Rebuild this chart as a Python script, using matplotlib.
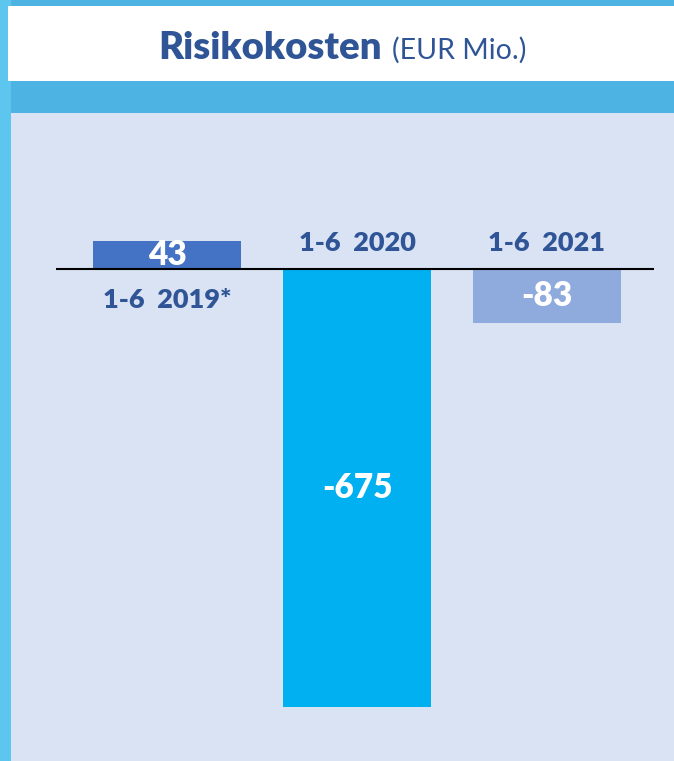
import matplotlib as mpl
import matplotlib.pyplot as plt
from matplotlib.patches import Rectangle

mpl.rcParams['font.family'] = ['Lato', 'DejaVu Sans']

categories = ['1-6  2019*', '1-6  2020', '1-6  2021']
values = [43, -675, -83]
bar_colors = ['#4472C4', '#00B0F0', '#8FAADC']
value_labels = ['43', '-675', '-83']

TEXT = '#2F5597'
W, H = 674, 761

fig = plt.figure(figsize=(W / 100, H / 100), dpi=100)
fig.patch.set_facecolor('#4DB3E2')

# light strip on the left edge
fig.patches.append(Rectangle((0, 0), 11 / W, 1, transform=fig.transFigure,
                             facecolor='#5CC6EF', edgecolor='none', zorder=0))
# white header box
fig.patches.append(Rectangle((8 / W, 1 - 81 / H), 1, 75 / H,
                             transform=fig.transFigure,
                             facecolor='white', edgecolor='none', zorder=0))

fig.text(382 / W, 1 - 59 / H, 'Risikokosten', ha='right', va='baseline',
         fontsize=27.5, fontweight='heavy', color=TEXT)
fig.text(392 / W, 1 - 59 / H, '(EUR Mio.)', ha='left', va='baseline',
         fontsize=20.5, color=TEXT)

ax = fig.add_axes([11 / W, 0, 1 - 11 / W, (H - 113) / H])
ax.set_facecolor('#DAE3F3')
for s in ax.spines.values():
    s.set_visible(False)
ax.set_xticks([])
ax.set_yticks([])

x = list(range(len(categories)))
px_per_x = 190.0
px_per_y = 438 / 675
ax.set_xlim(-(167 - 11) / px_per_x, x[-1] + (674 - 547) / px_per_x)
ax.set_ylim(-(761 - 269) / px_per_y, (269 - 113) / px_per_y)

ax.bar(x, values, width=0.78, color=bar_colors, zorder=2)
ax.hlines(0, x[0] - 0.585, x[-1] + 0.565, color='black', linewidth=1.5, zorder=3)

for xi, v, cat, lab in zip(x, values, categories, value_labels):
    ax.text(xi, v / 2, lab, ha='center', va='center', color='white',
            fontsize=24, fontweight='heavy', zorder=4)
    if v >= 0:
        ax.annotate(cat, (xi, 0), xytext=(0, -31), textcoords='offset pixels',
                    ha='center', va='center', color=TEXT, fontsize=19.5,
                    fontweight='heavy')
    else:
        ax.annotate(cat, (xi, 0), xytext=(0, 26), textcoords='offset pixels',
                    ha='center', va='center', color=TEXT, fontsize=19.5,
                    fontweight='heavy')

plt.savefig('out.png', dpi=100, facecolor=fig.get_facecolor())
